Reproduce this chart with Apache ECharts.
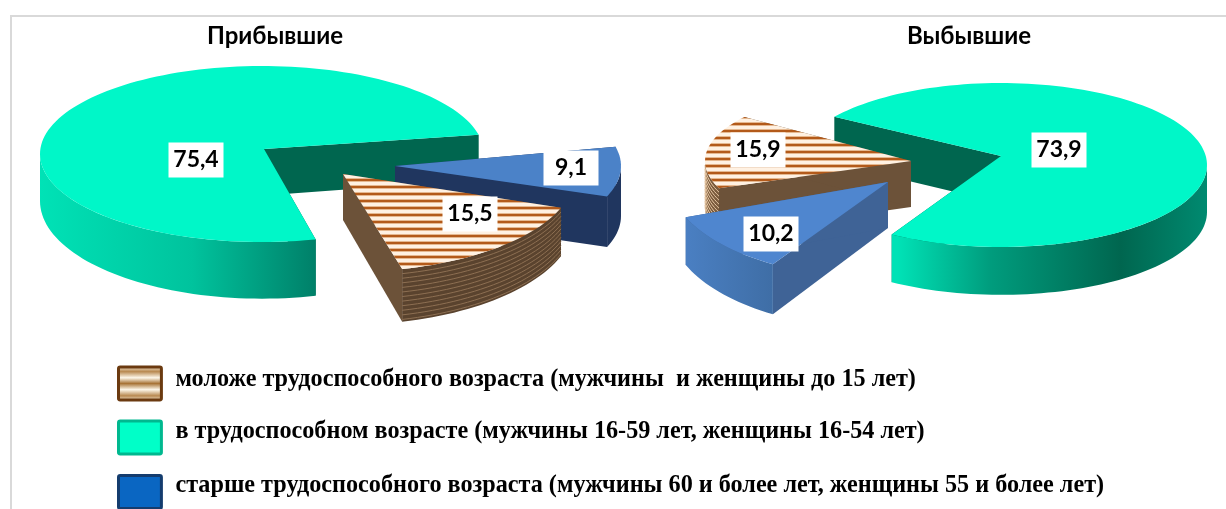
<!DOCTYPE html>
<html>
<head>
<meta charset="utf-8">
<style>html,body{margin:0;padding:0;background:#fff}#c{width:1226px;height:509px}</style>
<script src="https://cdn.jsdelivr.net/npm/echarts@6/dist/echarts.min.js"></script>
</head>
<body>
<div id="c"></div>
<script>
// Age structure of migrants, percent
const categories = [
  'моложе трудоспособного возраста (мужчины  и женщины до 15 лет)',
  'в трудоспособном возрасте (мужчины 16-59 лет, женщины 16-54 лет)',
  'старше трудоспособного возраста (мужчины 60 и более лет, женщины 55 и более лет)'
];
const pieTitles = ['Прибывшие', 'Выбывшие'];
const arrivedValues = [15.5, 75.4, 9.1];
const departedValues = [15.9, 73.9, 10.2];

const valuesByPie = [arrivedValues, departedValues];

// Slices run clockwise from startAngle in this category order
const sweepOrder = [1, 2, 0];

// Per pie: start angle of the green slice (clockwise from east), stacking, and each slice's projected ellipse.
// (ax, ay) is the wedge tip where it sits off the ellipse centre.
const pieLayout = [
  {
    startAngle: 76, z: { 1: 10, 2: 20, 0: 30 },
    slices: {
      1: { cx: 262, cy: 154, rx: 222, ry: 88, ax: 264, ay: 149, d: 47, k: 0.11, label: [196, 160] },
      2: { cx: 395, cy: 166, rx: 226, ry: 88, d: 50, k: 0.02, label: [571, 168] },
      0: { cx: 347, cy: 174, rx: 228, ry: 98, ax: 343, d: 46, k: 0.07, label: [470, 214] }
    }
  },
  {
    startAngle: 216, z: { 1: 10, 0: 20, 2: 30 },
    slices: {
      1: { cx: 1001, cy: 165, rx: 206, ry: 82, ay: 156, d: 47, k: 0.01, label: [1059, 150] },
      0: { cx: 911, cy: 161, rx: 206, ry: 75, d: 46, k: 0, label: [758, 150] },
      2: { cx: 888, cy: 182, rx: 217, ry: 97, d: 46, k: 0.05, label: [771, 234] }
    }
  }
];

function stripeCanvas() {
  const cv = document.createElement('canvas');
  cv.width = 4; cv.height = 7;
  const c = cv.getContext('2d');
  c.fillStyle = '#fff1e2'; c.fillRect(0, 0, 4, 7);
  c.fillStyle = '#b35a1a'; c.fillRect(0, 4, 4, 2);
  c.fillStyle = '#e5b890'; c.fillRect(0, 3, 4, 1); c.fillRect(0, 6, 4, 1);
  return cv;
}
const stripePattern = { image: stripeCanvas(), repeat: 'repeat' };

function hGrad(x1, x2, stops) {
  return {
    type: 'linear', global: true, x: x1, y: 0, x2: x2, y2: 0,
    colorStops: stops.map(s => ({ offset: s[0], color: s[1] }))
  };
}

// Colours per category, per pie
const palette = [
  [ // younger
    { top: stripePattern, face: '#6c5239', wall: '#5a432e', wallLine: '#8d6f52' },
    { top: stripePattern, face: '#6c5239', wall: '#7a5a3c', wallLine: '#e8c9a6' }
  ],
  [ // working age
    { top: '#00f7c8', face: '#00664f', wall: hGrad(40, 317, [[0, '#00e2b6'], [0.55, '#00c39d'], [1, '#007f68']]) },
    { top: '#00f7c8', face: '#00664f', wall: hGrad(898, 1207, [[0, '#00e2b6'], [0.3, '#009c7d'], [0.72, '#00664f'], [1, '#008a70']]) }
  ],
  [ // older
    { top: '#4b82c8', face: '#20365f', wall: '#20365f' },
    { top: '#4f86cf', face: '#3f6396', wall: hGrad(687, 772, [[0, '#4a7fc2'], [1, '#3f6ea6']]) }
  ]
];

const rad = a => a * Math.PI / 180;

function ellipsePoint(s, a) {
  return [s.cx + s.rx * Math.cos(rad(a)), s.cy + s.ry * Math.sin(rad(a))];
}
// The extrusion is slightly longer toward the viewer
function drop(s, p) {
  return [p[0], p[1] + s.d + s.k * (p[1] - s.cy)];
}
function arcPoints(s, a, b) {
  const n = Math.max(2, Math.ceil(Math.abs(b - a) / 2));
  const pts = [];
  for (let i = 0; i <= n; i++) pts.push(ellipsePoint(s, a + (b - a) * i / n));
  return pts;
}
// Section of [a, b] lying on the near half of the ellipse, where sin >= 0
function frontRange(a, b) {
  for (const off of [0, 360, -360]) {
    const lo = Math.max(a, off), hi = Math.min(b, off + 180);
    if (hi > lo) return [lo, hi];
  }
  return null;
}

function sliceAngles(values, startAngle) {
  const total = values.reduce((x, y) => x + y, 0);
  const out = {};
  let a = startAngle;
  sweepOrder.forEach(i => {
    const sweep = values[i] / total * 360;
    out[i] = [a, a + sweep];
    a += sweep;
  });
  return out;
}

function makeRenderItem(catIndex) {
  return function (params, api) {
    const pie = api.value(0);
    const value = api.value(1);
    const lay = pieLayout[pie];
    const [a, b] = sliceAngles(valuesByPie[pie], lay.startAngle)[catIndex];
    const s = lay.slices[catIndex];
    const col = palette[catIndex][pie];
    const baseZ = lay.z[catIndex];
    const apex = [s.ax === undefined ? s.cx : s.ax, s.ay === undefined ? s.cy : s.ay];
    const apexD = drop(s, apex);
    const children = [];

    [a, b].forEach(ang => {
      const p = ellipsePoint(s, ang);
      children.push({
        type: 'polygon', z2: baseZ,
        shape: { points: [apex, p, drop(s, p), apexD] },
        style: { fill: col.face }
      });
    });

    const fr = frontRange(a, b);
    if (fr) {
      const upper = arcPoints(s, fr[0], fr[1]);
      const lower = upper.map(p => drop(s, p)).reverse();
      children.push({
        type: 'polygon', z2: baseZ + 1,
        shape: { points: upper.concat(lower) },
        style: { fill: col.wall }
      });
      if (col.wallLine) {
        for (let t = 4; t < s.d; t += 4) {
          children.push({
            type: 'polyline', z2: baseZ + 2,
            shape: { points: upper.map(p => [p[0], p[1] + t / s.d * (drop(s, p)[1] - p[1])]) },
            style: { fill: null, stroke: col.wallLine, lineWidth: 1 }
          });
        }
      }
    }

    children.push({
      type: 'polygon', z2: baseZ + 3,
      shape: { points: [apex].concat(arcPoints(s, a, b)) },
      style: { fill: col.top }
    });

    children.push({
      type: 'rect', z2: 60,
      shape: { x: s.label[0] - 27.5, y: s.label[1] - 17.5, width: 55, height: 35 },
      style: { fill: '#fff' }
    });
    children.push({
      type: 'text', z2: 61,
      style: {
        x: s.label[0], y: s.label[1],
        text: String(value).replace('.', ','),
        fill: '#000', align: 'center', verticalAlign: 'middle',
        font: '700 23px Lato'
      }
    });
    return { type: 'group', children: children };
  };
}

const series = categories.map((name, i) => ({
  name: name,
  type: 'custom',
  coordinateSystem: 'none',
  silent: true,
  itemStyle: { color: ['#8a5a2b', '#00f7c8', '#0a66c2'][i] },
  encode: { value: 1 },
  data: [[0, arrivedValues[i]], [1, departedValues[i]]],
  renderItem: makeRenderItem(i)
}));

const swatchBrown = {
  type: 'linear', x: 0, y: 0, x2: 0, y2: 1,
  colorStops: [
    { offset: 0, color: '#fbf3e4' }, { offset: 0.17, color: '#b98a52' }, { offset: 0.34, color: '#fdf7ea' },
    { offset: 0.5, color: '#a87437' }, { offset: 0.67, color: '#fdf7ea' }, { offset: 0.84, color: '#b98a52' },
    { offset: 1, color: '#fbf3e4' }
  ]
};
const titleStyle = { fontFamily: 'Lato', fontWeight: 700, fontSize: 24, color: '#000' };
const legendFont = { fontFamily: 'Liberation Serif', fontWeight: 'bold', fontSize: 24.2, color: '#000', lineHeight: 18 };

const chart = echarts.init(document.getElementById('c'), null, { renderer: 'canvas' });
chart.setOption({
  animation: false,
  backgroundColor: '#ffffff',
  title: [
    { text: pieTitles[0], left: 270, top: 19, textAlign: 'center', textStyle: titleStyle },
    { text: pieTitles[1], left: 964, top: 19, textAlign: 'center', textStyle: titleStyle }
  ],
  legend: {
    orient: 'vertical', left: 117, top: 365.5, height: 180, padding: 0,
    itemWidth: 43, itemHeight: 33, itemGap: 18,
    selectedMode: false,
    icon: 'path://M5,0H125Q130,0 130,5V95Q130,100 125,100H5Q0,100 0,95V5Q0,0 5,0Z',
    // A thin empty line under each label lifts the text above the swatch's middle
    formatter: name => '{t|' + name + '}\n{s' + categories.indexOf(name) + '| }',
    textStyle: {
      padding: [0, 0, 0, 9],
      rich: {
        t: legendFont,
        s0: { fontSize: 6, lineHeight: 8 },
        s1: { fontSize: 6, lineHeight: 11 },
        s2: { fontSize: 6, lineHeight: 13 }
      }
    },
    data: [
      { name: categories[0], itemStyle: { color: swatchBrown, borderColor: '#6b3a10', borderWidth: 3 } },
      { name: categories[1], itemStyle: { color: '#00ffc8', borderColor: '#00b88f', borderWidth: 3 } },
      { name: categories[2], itemStyle: { color: '#0a66c2', borderColor: '#143c6e', borderWidth: 3 } }
    ]
  },
  graphic: [
    { type: 'rect', silent: true, shape: { x: 10, y: 15, width: 1216, height: 2 }, style: { fill: '#d9d9d9' } },
    { type: 'rect', silent: true, shape: { x: 10, y: 15, width: 2, height: 494 }, style: { fill: '#d9d9d9' } }
  ],
  series: series
});
</script>
</body>
</html>
